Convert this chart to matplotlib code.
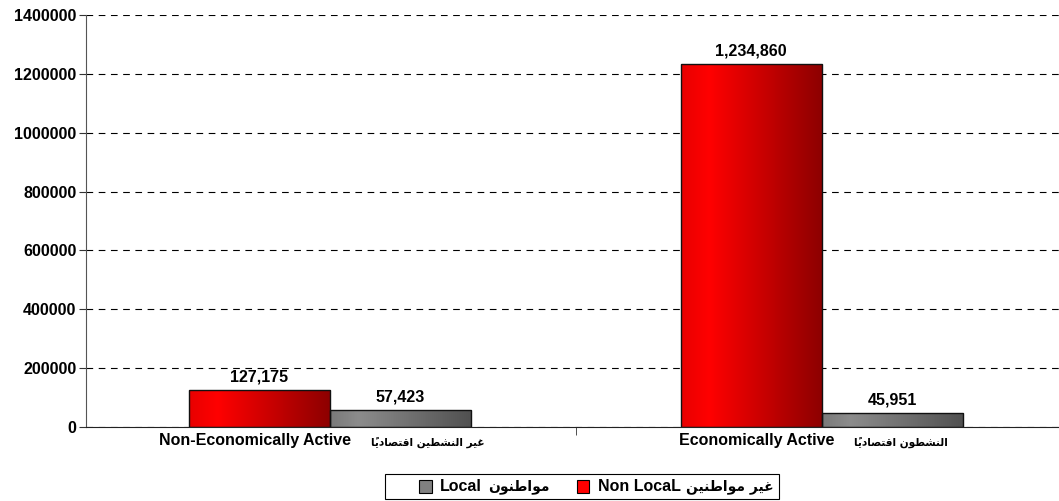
import numpy as np
import matplotlib
matplotlib.use('Agg')
import matplotlib.pyplot as plt
from matplotlib.colors import LinearSegmentedColormap
from matplotlib.patches import Rectangle
from matplotlib.offsetbox import (TextArea, HPacker, DrawingArea,
                                  AnnotationBbox, AnchoredOffsetbox)

plt.rcParams['font.family'] = ['Liberation Sans', 'DejaVu Sans']
plt.rcParams['font.weight'] = 'bold'

# Data
categories_en = ['Non-Economically Active', 'Economically Active']
categories_ar = ['غير النشطين اقتصادياً', 'النشطون اقتصادياً']
non_local = [127175, 1234860]
local = [57423, 45951]
series_en = ['Non LocaL', 'Local']
series_ar = ['غير مواطنين', 'مواطنون']
yticks = [0, 200000, 400000, 600000, 800000, 1000000, 1200000, 1400000]

# minimal arabic shaping (matplotlib has no complex text layout)
FORMS = {
    'ا': (0xFE8D, 0xFE8E, None, None), 'ت': (0xFE95, 0xFE96, 0xFE97, 0xFE98),
    'د': (0xFEA9, 0xFEAA, None, None), 'ر': (0xFEAD, 0xFEAE, None, None),
    'ش': (0xFEB5, 0xFEB6, 0xFEB7, 0xFEB8), 'ص': (0xFEB9, 0xFEBA, 0xFEBB, 0xFEBC),
    'ط': (0xFEC1, 0xFEC2, 0xFEC3, 0xFEC4), 'غ': (0xFECD, 0xFECE, 0xFECF, 0xFED0),
    'ق': (0xFED5, 0xFED6, 0xFED7, 0xFED8), 'ل': (0xFEDD, 0xFEDE, 0xFEDF, 0xFEE0),
    'م': (0xFEE1, 0xFEE2, 0xFEE3, 0xFEE4), 'ن': (0xFEE5, 0xFEE6, 0xFEE7, 0xFEE8),
    'و': (0xFEED, 0xFEEE, None, None), 'ي': (0xFEF1, 0xFEF2, 0xFEF3, 0xFEF4),
}
MARKS = '\u064B'


def shape(text):
    chars = list(text)
    n = len(chars)

    def neighbour(i, step):
        j = i + step
        while 0 <= j < n and chars[j] in MARKS:
            j += step
        return chars[j] if 0 <= j < n else None

    groups = []
    for i, c in enumerate(chars):
        if c in MARKS:
            groups[-1] += c
            continue
        if c in FORMS:
            iso, fin, ini, med = FORMS[c]
            p = neighbour(i, -1)
            q = neighbour(i, 1)
            pj = p in FORMS and FORMS[p][2] is not None
            nj = q in FORMS and ini is not None
            if pj and nj:
                code = med
            elif pj:
                code = fin
            elif nj:
                code = ini
            else:
                code = iso
            groups.append(chr(code))
        else:
            groups.append(c)
    return ''.join(groups[::-1])


def mixed(en, ar, en_size, ar_size, sep=6):
    t1 = TextArea(en, textprops=dict(fontsize=en_size, fontweight='bold',
                                     family='Liberation Sans'))
    t2 = TextArea(shape(ar), textprops=dict(fontsize=ar_size, fontweight='bold',
                                            family='DejaVu Sans'))
    return HPacker(children=[t1, t2], sep=sep, align='baseline', pad=0)


fig = plt.figure(figsize=(10.59, 5.01), dpi=100)
ax = fig.add_axes([86 / 1059, 1 - 427 / 501, 1 - 86 / 1059, (427 - 15) / 501])

x = np.arange(len(categories_en))
w = 0.287

red_cmap = LinearSegmentedColormap.from_list('r', [(0, '#e80000'), (0.2, '#ff0000'), (1, '#8c0000')])
grey_cmap = LinearSegmentedColormap.from_list('g', [(0, '#7a7a7a'), (0.2, '#8c8c8c'), (1, '#505050')])
grad = np.linspace(0, 1, 256).reshape(1, -1)


def gradient_bars(xs, vals, cmap):
    bars = ax.bar(xs, vals, w, color='none', edgecolor='#111111', linewidth=1, zorder=3)
    for b in bars:
        im = ax.imshow(grad, cmap=cmap, aspect='auto', zorder=2,
                       extent=(b.get_x(), b.get_x() + b.get_width(), 0, b.get_height()))
        im.set_clip_path(b)
    return bars


gradient_bars(x - w / 2, non_local, red_cmap)
gradient_bars(x + w / 2, local, grey_cmap)

for xs, vals in [(x - w / 2, non_local), (x + w / 2, local)]:
    for xi, v in zip(xs, vals):
        ax.annotate(f'{v:,}', (xi, v), xytext=(0, 4), textcoords='offset points',
                    ha='center', va='bottom', fontsize=11.5, fontweight='bold')

ax.set_xlim(-0.496, 1.482)
ax.set_ylim(0, 1400000)
ax.set_yticks(yticks)
ax.set_yticklabels([str(t) for t in yticks], fontsize=11.5, fontweight='bold')
ax.yaxis.grid(True, linestyle=(0, (6, 5)), color='black', linewidth=0.8)
ax.set_axisbelow(True)

ax.set_xticks(x)
ax.set_xticklabels([])
ax.tick_params(axis='x', length=0)
ax.set_xticks([0.5], minor=True)
ax.tick_params(axis='x', which='minor', length=6, direction='out', color='#333333')
ax.tick_params(axis='y', length=5, direction='out', color='#333333', pad=2)

# category labels: english + arabic side by side
for xi, en, ar in zip(x, categories_en, categories_ar):
    ab = AnnotationBbox(mixed(en, ar, 11.5, 7.6, sep=14), (xi, 0), xybox=(-6, -10),
                        xycoords='data', boxcoords='offset points',
                        box_alignment=(0.5, 0.5), frameon=False)
    ax.add_artist(ab)

for s in ['top', 'right']:
    ax.spines[s].set_visible(False)
ax.spines['left'].set_color('#555555')
ax.spines['bottom'].set_color('#222222')


# legend built by hand so english and arabic can use their own fonts
def swatch(color):
    da = DrawingArea(9, 9, 0, 0)
    da.add_artist(Rectangle((0, 0), 9, 9, facecolor=color, edgecolor='black', linewidth=0.8))
    return da


entries = [('#808080', series_en[1], series_ar[1]), ('#ff0000', series_en[0], series_ar[0])]
items = [DrawingArea(1, 1, 0, 0)]
for color, en, ar in entries:
    items.append(HPacker(children=[swatch(color), mixed(en, ar, 11.5, 10, sep=4)],
                         sep=6, align='center', pad=0))
legend_box = HPacker(children=items, sep=20, align='center', pad=0)
anchored = AnchoredOffsetbox(loc='center', child=legend_box, pad=0.05, borderpad=0,
                             frameon=True, bbox_to_anchor=(0.5496, 0.029),
                             bbox_transform=fig.transFigure)
anchored.patch.set_edgecolor('black')
anchored.patch.set_linewidth(0.8)
anchored.patch.set_boxstyle('square', pad=0.3)
fig.add_artist(anchored)

fig.savefig('out.png', dpi=100)
